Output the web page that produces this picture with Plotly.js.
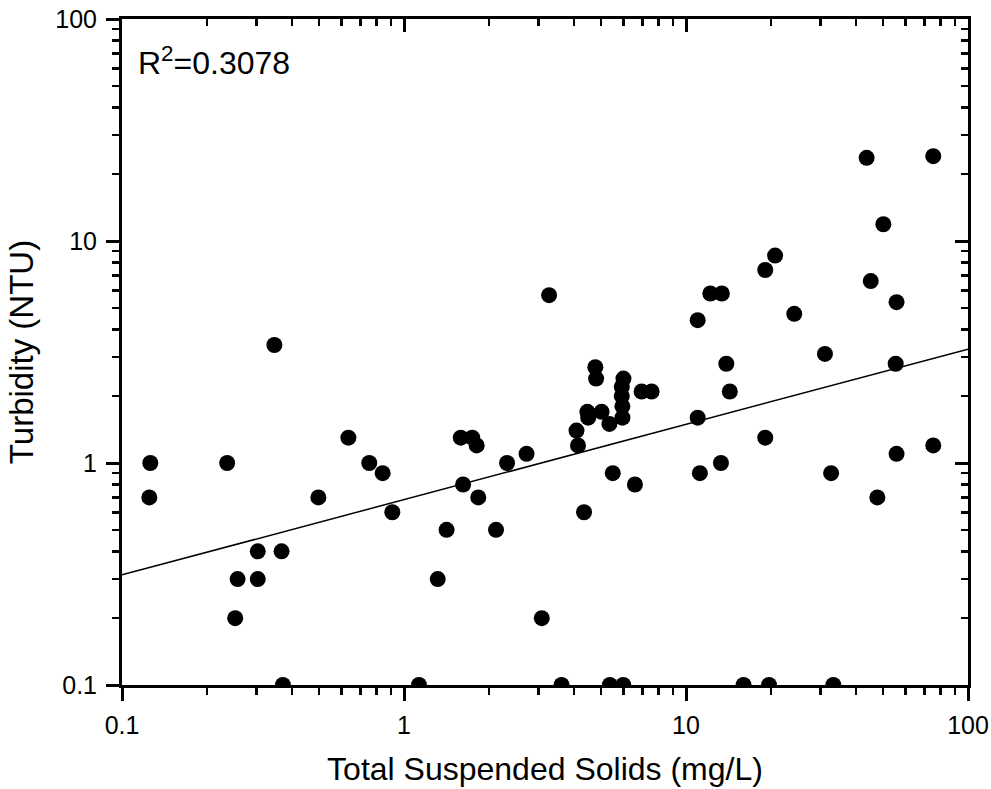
<!DOCTYPE html>
<html>
<head>
<meta charset="utf-8">
<script src="https://cdn.plot.ly/plotly-3.0.1.min.js"></script>
<style>html,body{margin:0;padding:0;background:#fff;}#chart{width:991px;height:789px;}</style>
</head>
<body>
<div id="chart"></div>
<script>
// Total Suspended Solids (mg/L)
const tss = [0.126, 0.125, 0.236, 0.347, 0.635, 0.753, 0.84, 0.497, 0.909, 0.303,
  0.368, 0.257, 0.303, 0.252, 0.372, 1.13, 1.317, 1.416, 1.59, 1.746,
  1.81, 1.62, 1.834, 2.12, 2.32, 2.72, 3.08, 3.27, 3.62, 4.09,
  4.14, 4.35, 4.47, 4.5, 4.77, 4.8, 5.02, 5.35, 5.5, 5.37,
  5.99, 6.0, 5.92, 5.92, 5.95, 5.95, 6.59, 6.96, 7.55, 11.0,
  11.0, 11.2, 12.2, 13.4, 13.3, 13.9, 14.3, 16.0, 19.1, 20.7,
  19.1, 19.7, 24.2, 31.1, 32.7, 33.3, 45.2, 47.7, 55.8, 55.4,
  55.8, 75.3, 43.7, 75.3, 50.1];
// Turbidity (NTU)
const turbidity = [1.0, 0.7, 1.0, 3.4, 1.3, 1.0, 0.9, 0.7, 0.6, 0.4,
  0.4, 0.3, 0.3, 0.2, 0.1, 0.1, 0.3, 0.5, 1.3, 1.3,
  1.2, 0.8, 0.7, 0.5, 1.0, 1.1, 0.2, 5.7, 0.1, 1.4,
  1.2, 0.6, 1.7, 1.6, 2.7, 2.4, 1.7, 1.5, 0.9, 0.1,
  0.1, 2.4, 2.2, 2.0, 1.8, 1.6, 0.8, 2.1, 2.1, 4.4,
  1.6, 0.9, 5.8, 5.8, 1.0, 2.8, 2.1, 0.1, 7.4, 8.6,
  1.3, 0.1, 4.7, 3.1, 0.9, 0.1, 6.6, 0.7, 5.3, 2.8,
  1.1, 1.2, 23.7, 24.1, 11.9];

// power-law fit: turbidity = fitCoef * tss ^ fitExp
const fitCoef = 0.684;
const fitExp = 0.339;
const fitRange = [0.1, 100];
const r2Text = 'R<sup>2</sup>=0.3078';

const majorTicks = [0.1, 1, 10, 100];
const majorLabels = ['0.1', '1', '10', '100'];

const xTitle = 'Total Suspended Solids (mg/L)';
const yTitle = 'Turbidity (NTU)';

const minorTicks = [];
for (let d = 0; d < 3; d++) {
  for (let k = 2; k <= 9; k++) minorTicks.push(k * Math.pow(10, d - 1));
}

const fitX = fitRange.slice();
const fitY = fitX.map(v => fitCoef * Math.pow(v, fitExp));

const FONT = '"Liberation Sans", Arial, sans-serif';

const traces = [
  {
    x: tss, y: turbidity, type: 'scatter', mode: 'markers',
    marker: {color: '#000', size: 16, line: {width: 0}},
    showlegend: false, hoverinfo: 'x+y'
  },
  {
    x: fitX, y: fitY, type: 'scatter', mode: 'lines',
    line: {color: '#000', width: 1.5},
    showlegend: false
  },
  {
    x: [], y: [], xaxis: 'x2', yaxis: 'y2', type: 'scatter', mode: 'markers',
    showlegend: false, hoverinfo: 'skip'
  }
];

const commonAxis = {
  type: 'log',
  range: [-1, 2],
  showgrid: false,
  zeroline: false,
  tickmode: 'array',
  tickvals: majorTicks,
  ticktext: majorLabels,
  tickcolor: '#000',
  tickwidth: 3,
  ticklen: 13,
};

const layout = {
  width: 991, height: 789,
  margin: {l: 122, r: 23, t: 19, b: 104, pad: 0},
  paper_bgcolor: '#fff', plot_bgcolor: '#fff',
  font: {family: FONT, color: '#000'},
  showlegend: false,
  xaxis: Object.assign({}, commonAxis, {
    ticks: 'outside',
    showline: true, linewidth: 3, linecolor: '#000', mirror: true,
    tickfont: {family: FONT, size: 25, color: '#000'},
    ticklabelstandoff: 3,
    minor: {tickmode: 'array', tickvals: minorTicks, ticks: 'outside', ticklen: 7, tickwidth: 2.5, tickcolor: '#000', showgrid: false},
    title: {text: xTitle, font: {family: FONT, size: 32, color: '#000'}, standoff: 20},
    automargin: false
  }),
  yaxis: Object.assign({}, commonAxis, {
    ticks: 'outside',
    showline: true, linewidth: 3, linecolor: '#000', mirror: true,
    tickfont: {family: FONT, size: 25, color: '#000'},
    ticklabelstandoff: 4,
    minor: {tickmode: 'array', tickvals: minorTicks, ticks: 'outside', ticklen: 7, tickwidth: 2.5, tickcolor: '#000', showgrid: false},
    title: {text: yTitle, font: {family: FONT, size: 33, color: '#000'}, standoff: 12},
    automargin: false
  }),
  xaxis2: Object.assign({}, commonAxis, {
    overlaying: 'x', side: 'top', anchor: 'y2',
    ticks: 'inside', showticklabels: false, showline: false,
    minor: {tickmode: 'array', tickvals: minorTicks, ticks: 'inside', ticklen: 7, tickwidth: 2.5, tickcolor: '#000', showgrid: false}
  }),
  yaxis2: Object.assign({}, commonAxis, {
    overlaying: 'y', side: 'right', anchor: 'x2',
    ticks: 'inside', showticklabels: false, showline: false,
    minor: {tickmode: 'array', tickvals: minorTicks, ticks: 'inside', ticklen: 7, tickwidth: 2.5, tickcolor: '#000', showgrid: false}
  }),
  annotations: [{
    xref: 'paper', yref: 'paper', x: 0.017, y: 0.937,
    xanchor: 'left', yanchor: 'middle',
    text: r2Text, showarrow: false,
    font: {family: FONT, size: 32, color: '#000'}
  }]
};

Plotly.newPlot('chart', traces, layout, {staticPlot: true, displayModeBar: false});
</script>
</body>
</html>
